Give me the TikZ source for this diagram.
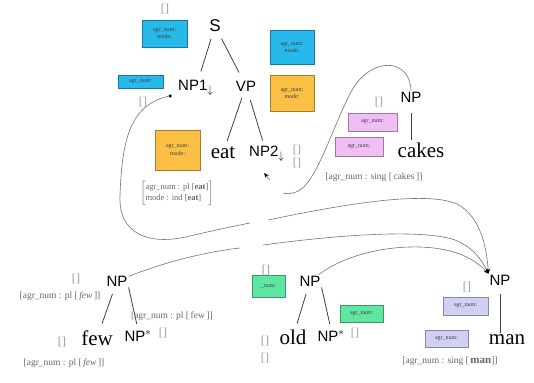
\documentclass[tikz,border=0pt]{standalone}
\usepackage{fontspec}
\setmainfont{Liberation Serif}
\newfontfamily\catfont{Liberation Sans}
\usetikzlibrary{arrows.meta}
\definecolor{fsblue}{RGB}{40,185,235}
\definecolor{fsorange}{RGB}{250,192,70}
\definecolor{fspink}{RGB}{240,190,245}
\definecolor{fsgreen}{RGB}{95,230,160}
\definecolor{fslav}{RGB}{208,208,245}
\begin{document}
\begin{tikzpicture}[x=1pt,y=-1pt,
  cat/.style={font=\catfont\fontsize{15}{15}\selectfont, inner sep=1pt},
  word/.style={font=\fontsize{21}{21}\selectfont, inner sep=1pt},
  feat/.style={font=\fontsize{9.5}{10}\selectfont, text=black!60, inner sep=0pt},
  avm/.style={draw=#1!65!black, fill=#1, line width=0.5pt, font=\fontsize{6}{7.5}\selectfont,
    text=black!75, inner sep=1pt, align=center},
  emp/.style={font=\fontsize{12}{12}\selectfont, text=black!40, inner sep=0pt},
  edge/.style={line width=0.8pt, black!75},
  link/.style={line width=0.6pt, black!55},
  tip/.style={-{Stealth[length=5pt,width=4pt,color=black]}}
]
\useasboundingbox (0,0) rectangle (534,382);

% ---------- initial tree: S -> NP1 VP, VP -> eat NP2 ----------
\node[cat, font=\catfont\fontsize{17}{17}\selectfont] (S) at (215,26) {S};
\node[cat, anchor=west] (NP1) at (177,88) {NP1$_{\downarrow}$};
\node[cat] (VP) at (246,86) {VP};
\node[word] (eat) at (223,153) {eat};
\node[cat, anchor=west] (NP2) at (248,154) {NP2$_{\downarrow}$};
\draw[edge, shorten <=6pt, shorten >=8pt] (S) -- (NP1);
\draw[edge, shorten <=6pt, shorten >=8pt] (S) -- (VP);
\draw[edge, shorten <=6pt, shorten >=5pt] (VP) -- (eat);
\draw[edge, shorten <=8pt, shorten >=5pt] (VP) -- (NP2);

\node[avm=fsblue, minimum width=45pt, minimum height=27pt] (bS) at (164.5,33.5) {agr\_num:\\mode:};
\node[avm=fsblue, minimum width=45pt, minimum height=13pt] (bNP1) at (140.5,81.5) {agr\_num:};
\node[avm=fsblue, minimum width=44pt, minimum height=34pt] (bVPt) at (292,47.5) {agr\_num:\\mode:};
\node[avm=fsorange, minimum width=44pt, minimum height=36pt] (bVPb) at (292,93.5) {agr\_num:\\mode:};
\node[avm=fsorange, minimum width=45pt, minimum height=40pt] (bEat) at (177.5,150) {agr\_num:\\mode:};
\node[feat, font=\fontsize{8.5}{9.5}\selectfont] (fEat) at (177,193)
  {$\left[\begin{tabular}{@{}l@{}}agr\_num : pl [\textbf{eat}]\\[2pt] mode : ind [\textbf{eat}]\end{tabular}\right]$};

\node[emp] (e1) at (165,9) {[\kern0.3pt]};
\node[emp] (e2) at (143,102) {[\kern0.3pt]};
\node[emp] (e3a) at (297,150) {[\kern0.3pt]};
\node[emp] (e3b) at (297,163) {[\kern0.3pt]};

% ---------- NP -> cakes ----------
\node[cat] (NPc) at (411,97) {NP};
\node[word] (cakes) at (421,150) {cakes};
\draw[edge, shorten <=10pt, shorten >=1pt] (NPc) -- (NPc |- cakes.north);
\node[emp] (e4) at (379,102) {[\kern0.3pt]};
\node[avm=fspink, minimum width=49pt, minimum height=18pt] (pC1) at (372.5,122) {agr\_num:};
\node[avm=fspink, minimum width=48pt, minimum height=19pt] (pC2) at (359,147) {agr\_num:};
\node[feat] (fCakes) at (374,177) {[agr\_num : sing [\,cakes\,]]};

% ---------- auxiliary tree: NP -> few NP* ----------
\node[cat] (NPf) at (117,281) {NP};
\node[word] (few) at (97,338) {few};
\node[cat] (NPfs) at (138,336) {NP$^{*}$};
\draw[edge, shorten <=7pt, shorten >=6pt] (NPf) -- (few);
\draw[edge, shorten >=6pt] (NPf.south east) -- (NPfs.north);
\node[emp] (e5) at (76,279) {[\kern0.3pt]};
\node[feat] (fF1) at (60,296) {[agr\_num : pl [\,\textit{few}\,]]};
\node[feat] (fF2) at (172,316) {[agr\_num : pl [\,few\,]]};
\node[emp] (e6) at (163,333) {[\kern0.3pt]};
\node[emp] (e7) at (62,342) {[\kern0.3pt]};
\node[feat] (fF3) at (64,363) {[agr\_num : pl [\,\textit{few}\,]]};

% ---------- auxiliary tree: NP -> old NP* ----------
\node[cat] (NPo) at (310,281) {NP};
\node[word] (old) at (293,337) {old};
\node[cat] (NPos) at (331,336) {NP$^{*}$};
\draw[edge, shorten <=7pt, shorten >=5pt] (NPo) -- (old);
\draw[edge, shorten >=6pt] (NPo.south east) -- (NPos.north);
\node[emp] (e8) at (266,270) {[\kern0.3pt]};
\node[avm=fsgreen, minimum width=33pt, minimum height=22pt] (gO1) at (268.5,286) {\_num:};
\node[avm=fsgreen, minimum width=43pt, minimum height=17pt] (gO2) at (361.5,313.5) {agr\_num:};
\node[emp] (e9) at (355,333) {[\kern0.3pt]};
\node[emp] (e10a) at (265,341) {[\kern0.3pt]};
\node[emp] (e10b) at (265,358) {[\kern0.3pt]};

% ---------- NP -> man ----------
\node[cat] (NPm) at (500,280) {NP};
\node[word] (man) at (507,340) {man};
\draw[edge, shorten <=8pt, shorten >=1pt] (NPm) -- (NPm |- man.north);
\node[emp] (e11) at (467,287) {[\kern0.3pt]};
\node[avm=fslav, minimum width=45pt, minimum height=18pt] (lM1) at (465.5,306) {agr\_num:};
\node[avm=fslav, minimum width=43pt, minimum height=17pt] (lM2) at (446.5,338.5) {agr\_num:};
\node[feat] (fMan) at (450,361) {[agr\_num : sing [\,\textbf{\fontsize{11}{11}\selectfont man}]]};

% ---------- substitution and adjunction links ----------
\node[circle, fill=black, inner sep=0pt, minimum size=3.5pt] (dot1) at (170,96) {};
\coordinate (gB1) at (250,223);
\coordinate (gB2) at (268,220);
\coordinate (gC1) at (240,248);
\coordinate (gC2) at (263,245);
\coordinate (cTail) at (283,193);
\coordinate (tA) at (270,180);
\coordinate (tB) at (264,173);

\draw[link] (dot1) .. controls (130,105) and (122,140) .. (120,195)
  .. controls (118,235) and (150,246) .. (190,236)
  .. controls (215,230) and (235,226) .. (gB1);
\draw[link, tip] (gB2) .. controls (340,205) and (425,190) .. (457,204)
  .. controls (476,214) and (486,237) .. (NPm.north west);

\draw[link] (NPf) .. controls (165,262) and (205,252) .. (gC1);
\draw[link, tip] (gC2) .. controls (330,236) and (420,228) .. (455,240)
  .. controls (470,246) and (480,256) .. (NPm.north west);

\draw[link, tip] (NPo) .. controls (345,255) and (385,246) .. (420,247)
  .. controls (450,248) and (472,256) .. (NPm.north west);

\draw[link] (NPc.north) .. controls (410,58) and (372,56) .. (352,90)
  .. controls (333,125) and (316,186) .. (296,192)
  .. controls (291,194) and (287,194) .. (cTail);
\draw[link, tip] (tA) -- (tB);
\end{tikzpicture}
\end{document}
